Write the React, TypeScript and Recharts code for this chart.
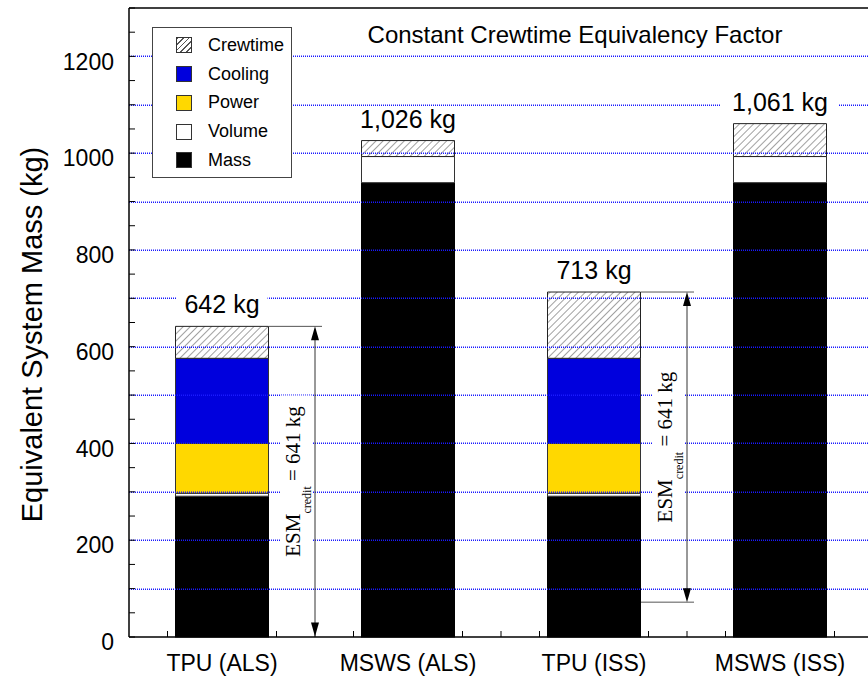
import React from 'react';
import { Bar, BarChart, LabelList, ReferenceLine, XAxis, YAxis } from 'recharts';

const categories = ['TPU (ALS)', 'MSWS (ALS)', 'TPU (ISS)', 'MSWS (ISS)'];
const mass = [291, 939, 291, 939];
const volume = [6, 54, 6, 54];
const power = [103, 0, 103, 0];
const cooling = [176, 0, 176, 0];
const crewtime = [66, 33, 137, 68];
const totalLabels = ['642 kg', '1,026 kg', '713 kg', '1,061 kg'];

const creditCategories = ['TPU (ALS)', 'TPU (ISS)'];
const creditTop = [642, 713];
const creditValue = 641;

const yTicks = [0, 50, 100, 150, 200, 250, 300, 350, 400, 450, 500, 550, 600, 650, 700, 750, 800, 850, 900, 950, 1000, 1050, 1100, 1150, 1200, 1250, 1300];
const yLabels = [0, 200, 400, 600, 800, 1000, 1200];
const gridValues = [100, 200, 300, 400, 500, 600, 700, 800, 900, 1000, 1100, 1200];

const legendItems = [
  { name: 'Crewtime', fill: 'hatch' },
  { name: 'Cooling', fill: '#0000dd' },
  { name: 'Power', fill: '#ffd800' },
  { name: 'Volume', fill: '#ffffff' },
  { name: 'Mass', fill: '#000000' },
];

const data = categories.map((name, i) => ({
  name,
  mass: mass[i],
  volume: volume[i],
  power: power[i],
  cooling: cooling[i],
  crewtime: crewtime[i],
  label: totalLabels[i],
}));

const FONT = '"Liberation Sans", Arial, sans-serif';
const SERIF = '"Liberation Serif", "Times New Roman", serif';
const GRID = '#1a1aff';

// mass segment + the little upward ticks on the x axis
const MassShape = (p: any) => {
  const { x, y, width, height } = p;
  const base = y + height;
  const tx = [x - 8, x + width + 8, x + width * 1.5];
  return (
    <g>
      <rect x={x} y={y} width={width} height={height} fill="#000" stroke="#000" />
      {tx.map((t, i) => <line key={i} x1={t} x2={t} y1={base} y2={base - 6} stroke="#000" />)}
    </g>
  );
};

const TotalLabel = (p: any) => {
  const { x, y, width, value } = p;
  const cx = x + width / 2;
  const w = String(value).length * 13.5 + 10;
  return (
    <g>
      <rect x={cx - w / 2} y={y - 34} width={w} height={26} fill="#fff" />
      <text x={cx} y={y - 13} textAnchor="middle" fontSize={25} fontFamily={FONT} fill="#000">{value}</text>
    </g>
  );
};

// dotted blue grid line
const GridShape = (p: any) => {
  const { x1, x2, y1 } = p;
  const y = Math.round(y1) + 0.25;
  return <line x1={x1} x2={x2} y1={y} y2={y} stroke={GRID} strokeWidth={1.5} strokeDasharray="1 1" />;
};

const CreditShape = (p: any) => {
  const { x1, y1, y2 } = p;
  const ax = x1 + 93;
  const mid = (y1 + y2) / 2;
  return (
    <g>
      <line x1={x1 + 47} x2={x1 + 100} y1={y1} y2={y1} stroke="#555" />
      {y2 < 630 && <line x1={x1 + 47} x2={x1 + 100} y1={y2} y2={y2} stroke="#555" />}
      <line x1={ax} x2={ax} y1={y1 + 10} y2={y2 - 10} stroke="#333" />
      <polygon points={`${ax},${y1} ${ax - 4},${y1 + 14} ${ax + 4},${y1 + 14}`} fill="#000" />
      <polygon points={`${ax},${y2} ${ax - 4},${y2 - 14} ${ax + 4},${y2 - 14}`} fill="#000" />
      <rect x={ax - 34} y={mid - 86} width={32} height={172} fill="#fff" />
      <text transform={`translate(${ax - 15},${mid}) rotate(-90)`} textAnchor="middle"
        fontFamily={SERIF} fontSize={21} fill="#000">
        ESM<tspan fontSize={12} dy={11}>credit</tspan><tspan dy={-11}> = {creditValue} kg</tspan>
      </text>
    </g>
  );
};

export default function App() {
  return (
    <div style={{ position: 'absolute', left: 0, top: 0, width: 868, height: 679, overflow: 'hidden', background: '#fff', fontFamily: FONT }}>
      <BarChart width={880} height={679} data={data} barCategoryGap="25%"
        margin={{ top: 8, right: 7, bottom: 0, left: 0 }}>
        <defs>
          <pattern id="hatch" width="5" height="5" patternUnits="userSpaceOnUse" patternTransform="rotate(45)">
            <rect width="5" height="5" fill="#fff" />
            <line x1="0" y1="0" x2="0" y2="5" stroke="#444" strokeWidth="1" />
          </pattern>
        </defs>
        {gridValues.map((v) => (
          <ReferenceLine key={v} y={v} shape={GridShape} />
        ))}
        <XAxis dataKey="name" height={42} tickLine={false} tickSize={0} tickMargin={18}
          axisLine={{ stroke: '#000', strokeWidth: 1.5 }}
          tick={{ fontSize: 23, fill: '#000', fontFamily: FONT }} />
        <YAxis width={129} domain={[0, 1300]} ticks={yTicks} interval={0}
          tickFormatter={(v: number) => (yLabels.includes(v) ? String(v) : '')}
          tickSize={-6} tickMargin={21}
          tickLine={{ stroke: '#000' }} axisLine={{ stroke: '#000', strokeWidth: 1.5 }}
          tick={{ fontSize: 23, fill: '#000', fontFamily: FONT, dy: 5 }}
          label={{
            content: (lp: any) => {
              const vb = lp.viewBox || { y: 8, height: 629 };
              const cy = vb.y + vb.height / 2 + 12;
              return (
                <text transform={`translate(42,${cy}) rotate(-90)`} textAnchor="middle"
                  fontSize={29} fontFamily={FONT} fill="#000">Equivalent System Mass (kg)</text>
              );
            },
          }} />
        <ReferenceLine y={1300} stroke="#000" strokeWidth={1.5} />
        <Bar dataKey="mass" stackId="a" shape={MassShape} isAnimationActive={false} />
        <Bar dataKey="volume" stackId="a" fill="#fff" stroke="#333" isAnimationActive={false} />
        <Bar dataKey="power" stackId="a" fill="#ffd800" stroke="#333" isAnimationActive={false} />
        <Bar dataKey="cooling" stackId="a" fill="#0000dd" stroke="#333" isAnimationActive={false} />
        <Bar dataKey="crewtime" stackId="a" fill="url(#hatch)" stroke="#222" isAnimationActive={false}>
          <LabelList dataKey="label" content={TotalLabel} />
        </Bar>
        {creditCategories.map((c, i) => (
          <ReferenceLine key={c} segment={[{ x: c, y: creditTop[i] }, { x: c, y: creditTop[i] - creditValue }]}
            shape={CreditShape} />
        ))}
      </BarChart>
      <div style={{ position: 'absolute', left: 575, top: 21, transform: 'translateX(-50%)', fontSize: 24, whiteSpace: 'nowrap', color: '#000' }}>
        Constant Crewtime Equivalency Factor
      </div>
      <div style={{ position: 'absolute', left: 152, top: 27, width: 140, height: 151, boxSizing: 'border-box', border: '1px solid #444', background: '#fff', paddingTop: 3 }}>
        {legendItems.map((it) => (
          <div key={it.name} style={{ height: 28.75, display: 'flex', alignItems: 'center', paddingLeft: 23, fontSize: 18, color: '#000' }}>
            <span style={{
              width: 16, height: 16, boxSizing: 'border-box', border: '1px solid #333', marginRight: 16,
              background: it.fill === 'hatch' ? 'repeating-linear-gradient(135deg, #555 0 1px, #fff 1px 4px)' : it.fill,
            }} />
            {it.name}
          </div>
        ))}
      </div>
    </div>
  );
}
